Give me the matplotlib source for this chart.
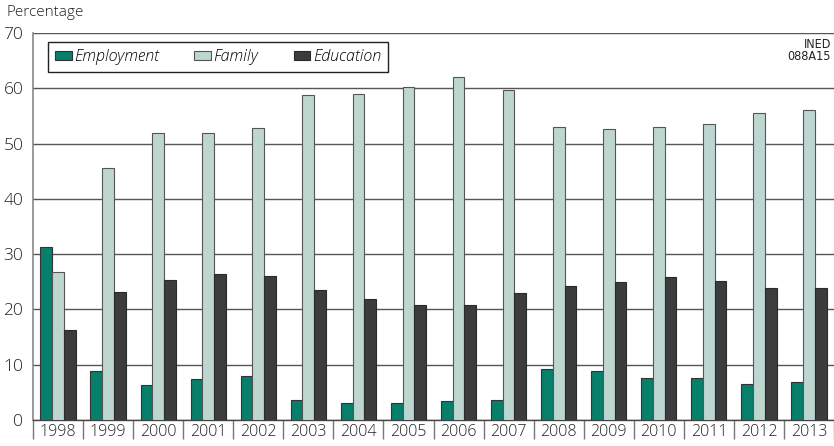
import matplotlib.pyplot as plt
from matplotlib.patches import Patch
import numpy as np

years = ['1998', '1999', '2000', '2001', '2002', '2003', '2004', '2005',
         '2006', '2007', '2008', '2009', '2010', '2011', '2012', '2013']
employment = [31.3, 8.8, 6.3, 7.4, 8.0, 3.7, 3.1, 3.1,
              3.5, 3.7, 9.2, 8.8, 7.6, 7.6, 6.6, 6.8]
family = [26.8, 45.5, 52.0, 52.0, 52.8, 58.7, 59.0, 60.2,
          62.0, 59.7, 53.0, 52.6, 53.0, 53.6, 55.5, 56.0]
education = [16.3, 23.1, 25.4, 26.4, 26.0, 23.6, 21.9, 20.8,
             20.8, 23.0, 24.3, 24.9, 25.8, 25.2, 23.8, 23.9]

c_emp = '#067f6b'
c_fam = '#bdd6d0'
c_edu = '#3c3c3c'

plt.rcParams['font.family'] = ['Open Sans', 'DejaVu Sans']
plt.rcParams['font.weight'] = 'light'

fig = plt.figure(figsize=(8.34, 4.46), dpi=100)
ax = fig.add_axes([33 / 834, 26 / 446, 801 / 834, 387 / 446])

x = np.arange(len(years))
w = 0.235
ax.bar(x - w, employment, w, color=c_emp, edgecolor='#333333', linewidth=0.8, zorder=3)
ax.bar(x, family, w, color=c_fam, edgecolor='#555555', linewidth=0.8, zorder=3)
ax.bar(x + w, education, w, color=c_edu, edgecolor='#2a2a2a', linewidth=0.8, zorder=3)

ax.set_xlim(-0.5, len(years) - 0.5)
ax.set_ylim(0, 70)
ax.set_yticks(range(0, 71, 10))
ax.yaxis.grid(True, color='#555555', linewidth=1.0, zorder=0)
ax.tick_params(axis='y', length=0, labelsize=12.5, pad=7, colors='#222222')

ax.set_xticks(x)
ax.set_xticklabels(years)
ax.set_xticks(np.arange(-0.5, len(years), 1), minor=True)
ax.tick_params(axis='x', which='major', length=0, labelsize=11.5, pad=3, colors='#222222')
ax.tick_params(axis='x', which='minor', length=14, width=1.0, color='#777777')

for s in ['top', 'right']:
    ax.spines[s].set_visible(False)
ax.spines['left'].set_color('#888888')
ax.spines['left'].set_linewidth(1.2)
ax.spines['bottom'].set_color('#444444')
ax.spines['bottom'].set_linewidth(1.0)

handles = [Patch(facecolor=c_emp, edgecolor='#333333', linewidth=0.8),
           Patch(facecolor=c_fam, edgecolor='#555555', linewidth=0.8),
           Patch(facecolor=c_edu, edgecolor='#2a2a2a', linewidth=0.8)]
leg = ax.legend(handles, ['Employment', 'Family', 'Education'], ncol=3,
                loc='upper left', bbox_to_anchor=(0.0187, 0.977), borderaxespad=0,
                fancybox=False, framealpha=1, edgecolor='#222222',
                handlelength=1.05, handleheight=0.5, handletextpad=0.15,
                columnspacing=2.2, borderpad=0.45,
                prop={'style': 'italic', 'size': 11.5, 'weight': 'light'})
leg.get_frame().set_linewidth(1.0)
leg.set_zorder(5)

fig.text(6 / 834, 1 - 12 / 446, 'Percentage', fontsize=11, va='center', ha='left', color='#222222')
fig.text(831 / 834, 1 - 51 / 446, 'INED\n088A15', fontsize=9, ha='right', va='center',
         linespacing=0.9, color='#222222', weight='normal', stretch='condensed',
         family='DejaVu Sans')

fig.savefig('out.png', dpi=100)
